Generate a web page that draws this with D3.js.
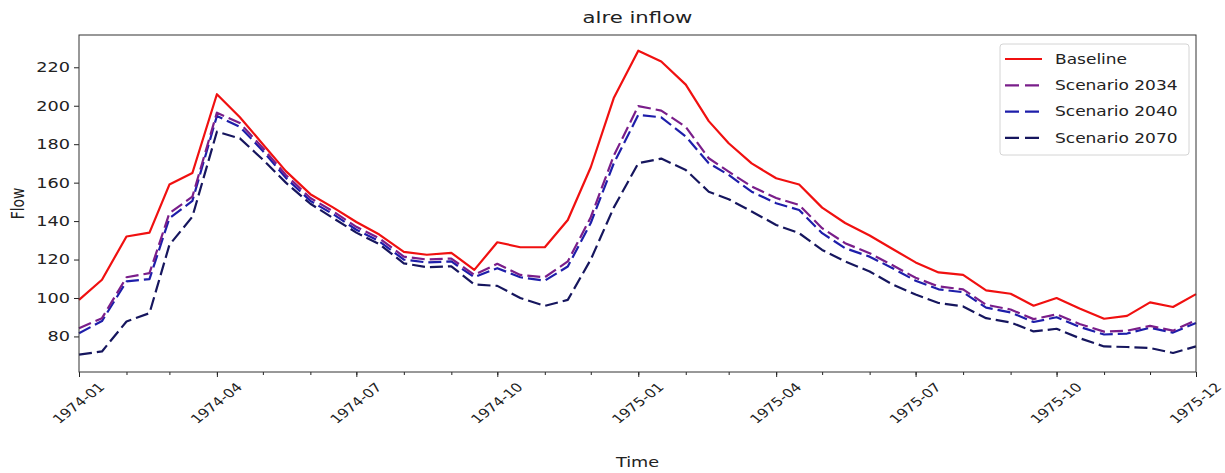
<!DOCTYPE html>
<html>
<head>
<meta charset="utf-8">
<script src="https://cdn.jsdelivr.net/npm/d3@7"></script>
<style>
  body { margin: 0; background: #fff; }
  svg text { font-family: "DejaVu Sans", sans-serif; fill: #222; }
</style>
</head>
<body>
<div id="chart"></div>
<script>
// semi-monthly samples, 1974-01-01 .. 1975-12-31
const startDate = "1974-01-01",
    endDate = "1975-12-31"

const baseline = [99, 109.5, 132, 134, 159, 165, 206, 194, 180, 166, 154, 147, 139.5, 133, 124, 122.5, 123.5, 114.6, 129, 126.4, 126.4, 140.6, 168, 204,
    228.6, 223, 211, 192, 180.5, 170, 162.3, 159, 147, 139, 132.5, 125.5, 118.5, 113.3, 112, 104, 102.2, 96, 100, 94.5, 89.2, 90.7, 97.7, 95.3, 102]
const scen2034 = [84.3, 89.5, 110.8, 112.9, 144.1, 152.7, 196.4, 191, 178, 164, 152, 145, 137, 131, 121.5, 120, 120.5, 112, 117.8, 112, 110.8, 119, 142, 174,
    199.8, 197.5, 189, 172.7, 165.7, 158, 152, 148.4, 136.3, 128.5, 123.3, 117, 110.5, 106, 104.5, 96.5, 94, 89, 91.5, 86.5, 82.5, 83, 85.5, 83, 88.5]
const scen2040 = [81.7, 88, 108.6, 109.8, 141.5, 150.5, 194.7, 189, 176.5, 162.5, 150.5, 143.5, 135.5, 129.5, 120, 118.5, 119, 110.8, 115.5, 110.8, 109, 116.4, 139, 170,
    195.2, 194, 184, 170.1, 164, 155.3, 149.3, 145.8, 133.7, 125.9, 121.5, 115.5, 109, 104.5, 103, 95, 92.5, 87.5, 90, 85, 81, 81.5, 84.5, 82, 87]
const scen2070 = [70.5, 72.2, 87.8, 92.1, 127.6, 142.3, 186.5, 183, 172, 160, 149, 141.5, 134, 128, 118, 116, 116.5, 107, 106.3, 100, 95.9, 99, 120, 147,
    170.1, 172.5, 166.6, 155.3, 151.4, 145, 138, 133.7, 125, 119, 113.8, 107, 101.8, 97.4, 95.6, 89.5, 87.3, 82.6, 84, 79.1, 74.8, 74.5, 74, 71.4, 74.8]

const seriesNames = ["Baseline", "Scenario 2034", "Scenario 2040", "Scenario 2070"]
const seriesColors = ["#f01010", "#7a1e8a", "#1e1eaa", "#16165e"]
const yTicks = [80, 100, 120, 140, 160, 180, 200, 220]
const xTickDates = ["1974-01-01", "1974-04-01", "1974-07-01", "1974-10-01", "1975-01-01", "1975-04-01", "1975-07-01", "1975-10-01", "1975-12-31"]

const parse = d3.utcParse("%Y-%m-%d")

// the picture is stretched sideways, so text is too
const sx = 1.27

// dates: 1st and 16th of every month, plus the last day
let dates = []
d3.utcMonth.range(parse(startDate), parse(endDate)).forEach(function (m) {
    dates.push(m)
    dates.push(d3.utcDay.offset(m, 15))
})
dates.push(parse(endDate))

let width = 1225,
    height = 473,
    margin = { top: 35, right: 29, bottom: 101, left: 79 }

let svg = d3.select("#chart")
    .append("svg")
    .attr("width", width)
    .attr("height", height)

svg.append("rect").attr("width", width).attr("height", height).attr("fill", "#fff")

let x = d3.scaleUtc()
    .domain([parse(startDate), parse(endDate)])
    .range([margin.left, width - margin.right])

let y = d3.scaleLinear()
    .domain([61.5, 236.8])
    .range([height - margin.bottom, margin.top])

// x axis: quarterly labelled ticks, monthly minor ticks
let xAxis = svg.append("g")
    .attr("transform", "translate(0," + (height - margin.bottom) + ")")
    .call(d3.axisBottom(x)
        .tickValues(xTickDates.map(parse))
        .tickFormat(d3.utcFormat("%Y-%m"))
        .tickSize(5)
        .tickSizeOuter(0))
xAxis.select(".domain").remove()
xAxis.selectAll("line").attr("stroke", "#222")
xAxis.selectAll("text")
    .attr("font-size", "12.3px")
    .attr("text-anchor", "middle")
    .attr("y", null)
    .attr("dy", "0.35em")
    .attr("transform", "translate(-1,31) scale(" + sx + ",1) rotate(-45)")

svg.append("g")
    .attr("transform", "translate(0," + (height - margin.bottom) + ")")
    .call(d3.axisBottom(x)
        .tickValues(d3.utcMonth.range(parse("1974-02-01"), parse(endDate)))
        .tickFormat("")
        .tickSize(3)
        .tickSizeOuter(0))
    .call(function (g) { g.select(".domain").remove() })
    .selectAll("line").attr("stroke", "#222")

let yAxis = svg.append("g")
    .attr("transform", "translate(" + margin.left + ",0)")
    .call(d3.axisLeft(y).tickValues(yTicks).tickSize(5).tickSizeOuter(0))
yAxis.select(".domain").remove()
yAxis.selectAll("line").attr("stroke", "#222")
yAxis.selectAll("text")
    .attr("font-size", "13.9px")
    .attr("x", 0)
    .attr("transform", "translate(-9,0) scale(" + sx + ",1)")

// lines
let allSeries = [baseline, scen2034, scen2040, scen2070]
let line = d3.line()
    .x(function (d, i) { return x(dates[i]) })
    .y(function (d) { return y(d) })

let plot = svg.append("g")
plot.selectAll("path.series")
    .data(allSeries.slice().reverse())
    .enter()
    .append("path")
    .attr("class", "series")
    .attr("fill", "none")
    .attr("stroke", function (d, i) { return seriesColors[3 - i] })
    .attr("stroke-width", 2.2)
    .attr("stroke-linejoin", "round")
    .attr("stroke-dasharray", function (d, i) { return (3 - i) === 0 ? null : "13,5" })
    .attr("d", line)

// frame
svg.append("rect")
    .attr("x", margin.left)
    .attr("y", margin.top)
    .attr("width", width - margin.left - margin.right)
    .attr("height", height - margin.top - margin.bottom)
    .attr("fill", "none")
    .attr("stroke", "#333")
    .attr("stroke-width", 1)

// titles
let cx = (margin.left + width - margin.right) / 2
svg.append("text")
    .attr("transform", "translate(" + cx + ",23) scale(" + sx + ",1)")
    .attr("text-anchor", "middle")
    .attr("font-size", "16.7px")
    .text("alre inflow")

svg.append("text")
    .attr("transform", "translate(" + cx + ",467) scale(" + sx + ",1)")
    .attr("text-anchor", "middle")
    .attr("font-size", "13.9px")
    .text("Time")

svg.append("text")
    .attr("transform", "translate(18," + ((margin.top + height - margin.bottom) / 2) + ") scale(" + sx + ",1) rotate(-90)")
    .attr("text-anchor", "middle")
    .attr("dy", "0.35em")
    .attr("font-size", "13.9px")
    .text("Flow")

// legend
let legend = svg.append("g").attr("transform", "translate(1000,44)")
legend.append("rect")
    .attr("width", 189)
    .attr("height", 111)
    .attr("rx", 3)
    .attr("fill", "#fff")
    .attr("fill-opacity", 0.85)
    .attr("stroke", "#d4d4d4")

let items = legend.selectAll("g.item")
    .data(seriesNames)
    .enter()
    .append("g")
    .attr("class", "item")
    .attr("transform", function (d, i) { return "translate(0," + (15 + i * 26.3) + ")" })

items.append("line")
    .attr("x1", 5).attr("x2", 42)
    .attr("stroke", function (d, i) { return seriesColors[i] })
    .attr("stroke-width", 2.2)
    .attr("stroke-dasharray", function (d, i) { return i === 0 ? null : "14,6" })

items.append("text")
    .attr("transform", "translate(55,0) scale(" + sx + ",1)")
    .attr("dy", "0.35em")
    .attr("font-size", "13.4px")
    .text(function (d) { return d })
</script>
</body>
</html>
